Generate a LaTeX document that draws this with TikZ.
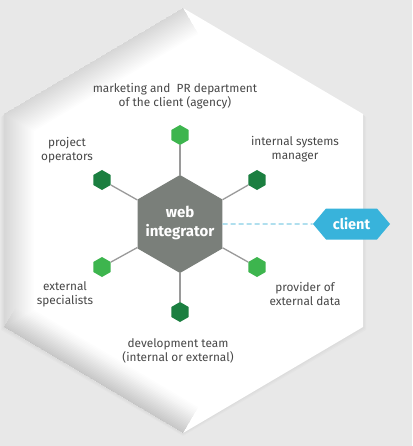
\documentclass[tikz,border=0pt]{standalone}
\usepackage{fontspec}
\setmainfont{Fira Sans}
\usetikzlibrary{shapes.geometric,shapes.symbols}
\definecolor{bg}{HTML}{E8E8E8}
\definecolor{hubgray}{HTML}{7A7F7A}
\definecolor{darkgreen}{HTML}{1B7F40}
\definecolor{lightgreen}{HTML}{3DB54E}
\definecolor{clientblue}{HTML}{38B3DB}
\definecolor{dashblue}{HTML}{86CFE6}
\definecolor{spokegray}{HTML}{9A9A9A}
\definecolor{txt}{HTML}{474747}
\tikzset{
  hub/.style={regular polygon, regular polygon sides=6, shape border rotate=30,
    minimum size=98pt, inner sep=0pt, fill=hubgray},
  hubtext/.style={text=white, inner sep=0pt,
    font=\bfseries\fontsize{15}{19}\selectfont, align=center},
  hexsmall/.style={regular polygon, regular polygon sides=6, shape border rotate=30,
    minimum size=20pt, inner sep=0pt},
  darkhex/.style={hexsmall, fill=darkgreen},
  lighthex/.style={hexsmall, fill=lightgreen},
  spoke/.style={draw=spokegray, line width=1.3pt},
  dashline/.style={draw=dashblue, line width=1.3pt, dash pattern=on 5pt off 3pt},
  clientbox/.style={signal, signal to=west and east, signal pointer angle=100,
    minimum width=77pt, minimum height=31pt, inner sep=0pt, fill=clientblue,
    text=white, font=\bfseries\fontsize{14.5}{18}\selectfont},
  lbl/.style={text=txt, font=\fontsize{11.8}{14}\selectfont, align=center, inner sep=0pt}
}
\begin{document}
\begin{tikzpicture}[x=1pt,y=-1pt]
\fill[bg] (0,0) rectangle (412,446);
\useasboundingbox (0,0) rectangle (412,446);
% big hexagon
\coordinate (T) at (183,8);
\coordinate (UR) at (363,114);
\coordinate (LR) at (363,327);
\coordinate (B) at (183,433);
\coordinate (LL) at (4,327);
\coordinate (UL) at (4,114);
\foreach \s in {1,2,3}
  \fill[black,opacity=0.015] ([shift={(0,\s)}]T) -- ([shift={(\s,\s)}]UR) -- ([shift={(\s,\s)}]LR) -- ([shift={(0,\s)}]B) -- ([shift={(-\s,\s)}]LL) -- ([shift={(-\s,\s)}]UL) -- cycle;
\fill[white] (T) -- (UR) -- (LR) -- (B) -- (LL) -- (UL) -- cycle;
\begin{scope}
  \clip (T) -- (UR) -- (LR) -- (B) -- (LL) -- (UL) -- cycle;
  \foreach \w in {3,6,...,60}
    \draw[black, opacity=0.006, line width=\w pt, line join=round] (T) -- (UL) -- (LL) -- (B);
  \foreach \w in {3,6,...,45}
    \draw[black, opacity=0.005, line width=\w pt, line join=round] (LL) -- (B);
\end{scope}
% nodes
\node[hub] (wi) at (180,224) {};
\node[hubtext] (witext) at (180,223) {web\\integrator};
\node[lighthex] (h1) at (180,135) {};
\node[darkhex] (h2) at (102,180) {};
\node[darkhex] (h3) at (257,180) {};
\node[lighthex] (h4) at (102,267) {};
\node[lighthex] (h5) at (257,267) {};
\node[darkhex] (h6) at (180,312) {};
\node[clientbox] (cl) at (351.5,224) {client};
% connectors
\foreach \h in {h1,h2,h3,h4,h5,h6}
  \draw[spoke] (wi) -- (\h);
\draw[dashline] (wi) -- (cl);
% labels
\node[lbl] (l1) at (175,96) {marketing and\ \ PR department\\of the client (agency)};
\node[lbl] (l2) at (67,150) {project\\operators};
\node[lbl] (l3) at (295,149) {internal systems\\manager};
\node[lbl] (l4) at (65,294) {external\\specialists};
\node[lbl] (l5) at (305,294) {provider of\\external data};
\node[lbl] (l6) at (178,351) {development team\\(internal or external)};
\end{tikzpicture}
\end{document}
